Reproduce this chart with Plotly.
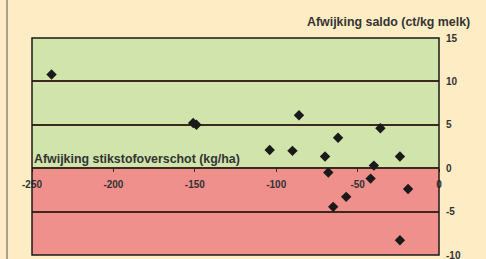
import plotly.graph_objects as go

# Data
stikstof = [-238, -151, -149, -86, -36, -62, -104, -90, -70, -24, -40, -68, -42, -19, -57, -65, -24]
saldo = [10.8, 5.2, 5.0, 6.1, 4.6, 3.5, 2.1, 2.0, 1.35, 1.35, 0.3, -0.5, -1.2, -2.4, -3.3, -4.45, -8.3]

x_ticks = [-250, -200, -150, -100, -50, 0]
y_ticks = [15, 10, 5, 0, -5, -10]

x_title = "Afwijking stikstofoverschot (kg/ha)"
y_title = "Afwijking saldo (ct/kg melk)"

GREEN = "#d0e4ac"
RED = "#f0908c"
CREAM = "#feecc4"
DARK = "#3c2a20"
TXT = "#333333"
FONT = "Liberation Sans, Arial, sans-serif"

fig = go.Figure()
fig.add_trace(go.Scatter(
    x=stikstof, y=saldo, mode="markers",
    marker=dict(symbol="diamond", size=8, color="#1a1a1a"),
    hoverinfo="x+y", showlegend=False,
))

# background zones
fig.add_shape(type="rect", xref="x domain", yref="y", x0=0, x1=1, y0=0, y1=15,
              fillcolor=GREEN, line_width=0, layer="below")
fig.add_shape(type="rect", xref="x domain", yref="y", x0=0, x1=1, y0=-10, y1=0,
              fillcolor=RED, line_width=0, layer="below")
# plot frame
fig.add_shape(type="rect", xref="x domain", yref="y domain", x0=0, x1=1, y0=0, y1=1,
              line=dict(color="#1a1a1a", width=1.5), fillcolor="rgba(0,0,0,0)")
# left border line of the page
fig.add_shape(type="line", xref="paper", yref="paper", x0=-0.0614, x1=-0.0614, y0=-0.05, y1=1.2,
              line=dict(color="#555555", width=1))

fig.update_xaxes(
    range=[-250, 0], tickvals=x_ticks, ticktext=[str(v) for v in x_ticks],
    anchor="free", position=0.4, side="bottom", automargin=False,
    ticks="outside", ticklen=3, tickcolor=DARK, tickwidth=1, ticklabelstandoff=4,
    ticklabeloverflow="allow",
    showgrid=False, zeroline=False, showline=False,
    tickfont=dict(family=FONT, size=10, color=TXT, weight="bold"),
)
fig.update_yaxes(
    range=[-10, 15], tickvals=y_ticks, ticktext=[str(v) for v in y_ticks], side="right",
    automargin=False, ticklabeloverflow="allow",
    showgrid=True, gridcolor=DARK, gridwidth=1.5,
    zeroline=True, zerolinecolor=DARK, zerolinewidth=1.5,
    showline=False, ticks="", ticklabelstandoff=6,
    tickfont=dict(family=FONT, size=10, color=TXT, weight="bold"),
)

fig.add_annotation(text=y_title, xref="paper", yref="paper", x=1.08, y=1.0, yshift=7,
                   xanchor="right", yanchor="bottom", showarrow=False,
                   font=dict(family=FONT, size=12.4, color=TXT, weight="bold"))
fig.add_annotation(text=x_title, xref="paper", yref="y", x=0.0, y=0.05,
                   xanchor="left", yanchor="bottom", showarrow=False,
                   font=dict(family=FONT, size=12.4, color=TXT, weight="bold"))

fig.update_layout(
    width=486, height=259,
    margin=dict(l=32, r=47, t=38, b=4),
    paper_bgcolor=CREAM, plot_bgcolor=CREAM,
)

fig.write_html(
    "out.html",
    config={"displayModeBar": False},
    post_script="document.body.style.margin='0';document.body.style.overflow='hidden';",
)
